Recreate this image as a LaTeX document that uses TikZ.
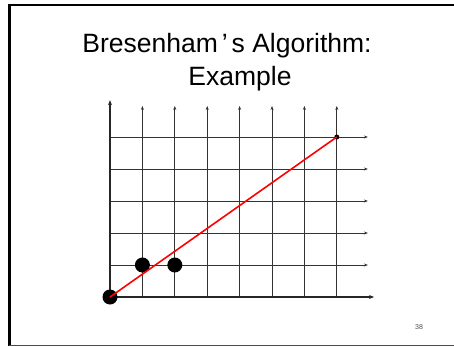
\documentclass[tikz,border=0pt]{standalone}
\usepackage{fontspec}
\setmainfont{Liberation Sans}
\usetikzlibrary{arrows.meta}

\begin{document}
\begin{tikzpicture}[x=1pt,y=1pt,
    gridline/.style={black!80, line width=1pt, -{Stealth[length=4pt,width=3pt]}},
    axisline/.style={black!85, line width=1.6pt, -{Stealth[length=5pt,width=4pt]}},
    bigdot/.style={circle, fill=black, inner sep=0pt, minimum size=15pt},
    smalldot/.style={circle, fill=black, inner sep=0pt, minimum size=5pt}]

    \useasboundingbox (0,0) rectangle (454,346);

    % Marco de la diapositiva
    \draw[black, line width=2.5pt, line join=miter] (9.5,0) -- (9.5,341) -- (454,341); % izquierda y arriba
    \draw[black!70, line width=1pt] (9,1) -- (454,1); % abajo

    % Titulo
    \node[anchor=base, font=\fontsize{26.5}{30}\selectfont] (title) at (227,293)
        {Bresenham\hspace{4pt}’\hspace{4pt}s Algorithm:};
    \node[anchor=base, font=\fontsize{26.5}{30}\selectfont] (subtitle) at (240,261) {Example};

    % Rejilla
    \begin{scope}[shift={(110,49)}, x=32.4pt, y=32pt]
        \foreach \i in {1,...,7} {
            \draw[gridline] (\i,0) -- (\i,5.97); % lineas verticales
        }
        \foreach \j in {1,...,5} {
            \draw[gridline] (0,\j) -- (7.96,\j); % lineas horizontales
        }
        \draw[axisline] (0,0) -- (8.15,0); % Eje X
        \draw[axisline] (0,0) -- (0,6.15); % Eje Y

        % Pixeles elegidos
        \node[bigdot] (p0) at (0,0) {};
        \node[bigdot] (p1) at (1,1) {};
        \node[bigdot] (p2) at (2,1) {};
        \node[smalldot] (p7) at (7,5) {};

        % Linea ideal
        \draw[red, line width=1.6pt] (p0.center) -- (p7.center);
    \end{scope}

    % Numero de pagina
    \node[font=\fontsize{7}{8}\selectfont, text=black!70] (page) at (419,19) {38};

\end{tikzpicture}
\end{document}
